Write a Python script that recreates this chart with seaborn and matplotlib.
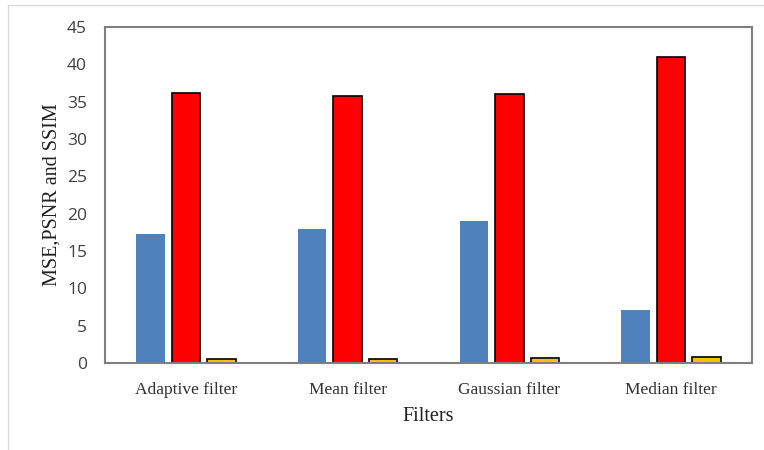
"""Grouped bar chart: MSE, PSNR and SSIM per denoising filter."""
import matplotlib
matplotlib.use("Agg")
import matplotlib.pyplot as plt
import pandas as pd
import seaborn as sns
from matplotlib.lines import Line2D

filters = ["Adaptive filter", "Mean filter", "Gaussian filter", "Median filter"]
metrics = ["MSE", "PSNR", "SSIM"]
mse = [17.3, 18.0, 19.0, 7.1]
psnr = [36.1, 35.8, 36.0, 41.0]
ssim = [0.5, 0.5, 0.7, 0.85]
y_ticks = [0, 5, 10, 15, 20, 25, 30, 35, 40, 45]

df = pd.DataFrame({
    "Filter": filters * 3,
    "Metric": [m for m in metrics for _ in filters],
    "Value": mse + psnr + ssim,
})

sns.set_style("white")
colors = {"MSE": "#4F81BD", "PSNR": "#FF0000", "SSIM": "#FFC000"}
edges = {"MSE": "none", "PSNR": "black", "SSIM": "black"}

fig = plt.figure(figsize=(7.64, 4.5), dpi=100)
ax = fig.add_axes([105 / 764, 1 - 363 / 450, 647 / 764, 336 / 450])
sns.barplot(data=df, x="Filter", y="Value", hue="Metric", order=filters,
            hue_order=metrics, palette=colors, width=0.66, gap=0.2,
            saturation=1, legend=False, ax=ax)
for cont, m in zip(ax.containers, metrics):
    for bar in cont:
        bar.set_edgecolor(edges[m])
        bar.set_linewidth(1.2)

ax.set_xlim(-0.5, 3.5)
ax.set_ylim(0, 45)
ax.set_yticks(y_ticks)
ax.tick_params(axis="y", length=0, pad=13)
ax.tick_params(axis="x", length=0, pad=14)
for lab in ax.get_yticklabels():
    lab.set_family("Open Sans")
    lab.set_fontsize(12.5)
    lab.set_color("#404040")
for lab in ax.get_xticklabels():
    lab.set_family("Liberation Serif")
    lab.set_fontsize(12.5)
    lab.set_color("#303030")
ax.set_xlabel("Filters", family="Liberation Serif", fontsize=14.5, color="#202020",
              labelpad=6)
ax.set_ylabel("MSE,PSNR and SSIM", family="Liberation Serif", fontsize=14.5,
              color="#202020", labelpad=4)
for sp in ax.spines.values():
    sp.set_visible(True)
    sp.set_color("#7f7f7f")
    sp.set_linewidth(1.5)

# light frame of the original figure, left and top edges only
fig.add_artist(Line2D([8 / 764, 8 / 764], [0, 1 - 5 / 450],
                      transform=fig.transFigure, color="#d9d9d9", lw=1))
fig.add_artist(Line2D([8 / 764, 1], [1 - 5 / 450, 1 - 5 / 450],
                      transform=fig.transFigure, color="#d9d9d9", lw=1))

fig.savefig("out.png", dpi=100)
plt.close(fig)
